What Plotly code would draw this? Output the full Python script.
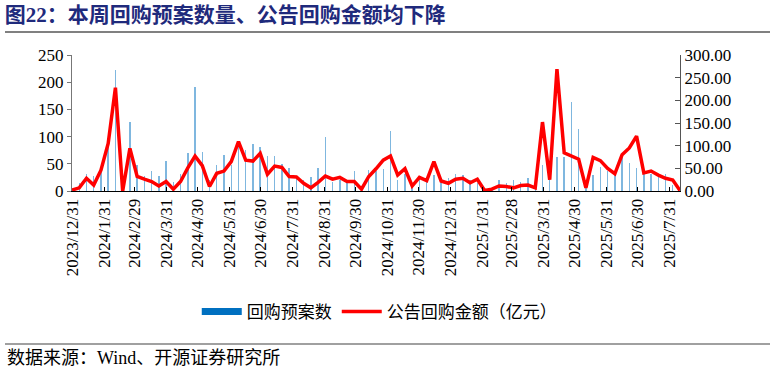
import pandas as pd
import plotly.graph_objects as go

# ---- data ----
weeks = pd.date_range("2023-12-31", periods=85, freq="7D")

plan_counts = [2, 14, 32, 28, 45, 85, 222, 0, 126, 47, 28, 37, 28, 56, 17, 31, 70,
               191, 72, 20, 47, 66, 48, 85, 75, 86, 81, 65, 64, 49, 43, 23, 20, 26,
               43, 99, 17, 20, 14, 37, 3, 39, 37, 40, 110, 20, 32, 14, 28, 20, 29,
               17, 23, 31, 29, 20, 14, 0, 2, 20, 15, 20, 17, 23, 5, 47, 23, 62,
               63, 164, 114, 8, 30, 45, 37, 34, 63, 51, 43, 31, 32, 26, 31, 11, 0]

amounts = [2, 7, 28, 13, 46, 105, 228, 0, 94, 32, 26, 21, 11, 21, 4, 21, 51,
           77, 56, 10, 39, 44, 65, 109, 68, 66, 83, 37, 55, 52, 32, 31, 17, 7,
           19, 33, 26, 30, 21, 21, 4, 32, 49, 68, 77, 35, 49, 11, 30, 23, 65,
           22, 17, 26, 28, 18, 26, 1, 4, 11, 10, 7, 12, 13, 7, 152, 25, 269,
           84, 77, 70, 7, 74, 67, 50, 38, 80, 95, 121, 40, 44, 35, 28, 24, 1]

tick_dates = ["2023-12-31", "2024-01-31", "2024-02-29", "2024-03-31", "2024-04-30",
              "2024-05-31", "2024-06-30", "2024-07-31", "2024-08-31", "2024-09-30",
              "2024-10-31", "2024-11-30", "2024-12-31", "2025-01-31", "2025-02-28",
              "2025-03-31", "2025-04-30", "2025-05-31", "2025-06-30", "2025-07-31"]
tick_labels = ["2023/12/31", "2024/1/31", "2024/2/29", "2024/3/31", "2024/4/30",
               "2024/5/31", "2024/6/30", "2024/7/31", "2024/8/31", "2024/9/30",
               "2024/10/31", "2024/11/30", "2024/12/31", "2025/1/31", "2025/2/28",
               "2025/3/31", "2025/4/30", "2025/5/31", "2025/6/30", "2025/7/31"]

name_bar = "回购预案数"
name_line = "公告回购金额（亿元）"
title_text = "图22：本周回购预案数量、公告回购金额均下降"
source_text = "数据来源：Wind、开源证券研究所"

# ---- style ----
FONT = "Liberation Serif, 'Times New Roman', 'Noto Sans CJK SC', serif"
CJK = "Liberation Serif, 'Noto Sans CJK SC', sans-serif"
BLUE = "#0070C0"
RED = "#FF0000"
DAY_MS = 86400000

fig = go.Figure()
fig.add_trace(go.Bar(
    x=weeks, y=plan_counts, name=name_bar, showlegend=False,
    marker=dict(color="rgba(0,112,192,0.5)", line=dict(width=0)),
    width=1.4 * DAY_MS, yaxis="y"))
fig.add_trace(go.Scatter(
    x=[None], y=[None], mode="lines", name=name_bar,
    line=dict(color=BLUE, width=7), yaxis="y"))
fig.add_trace(go.Scatter(
    x=weeks, y=amounts, mode="lines", name=name_line,
    line=dict(color=RED, width=3.5), yaxis="y2"))

# paper coords helpers: plot area x 72..680, y 55..191 px
def px_x(x):
    return (x - 72) / 608.0

def px_y(y):
    return (191 - y) / 136.0

fig.update_layout(
    width=774, height=373,
    margin=dict(l=72, r=94, t=55, b=182),
    paper_bgcolor="white", plot_bgcolor="white",
    font=dict(family=FONT, size=17, color="black"),
    bargap=0,
    title=dict(text="<b>" + title_text + "</b>", xref="container", yref="container",
               x=0.006, xanchor="left", y=1 - 15 / 373, yanchor="middle",
               font=dict(family=CJK, size=21, color="#1F2A7C")),
    xaxis=dict(type="date", range=["2023-12-31", "2025-08-10"],
               tickmode="array", tickvals=tick_dates, ticktext=tick_labels,
               tickangle=-90, ticks="inside", ticklen=4, tickcolor="black",
               showline=True, linecolor="black", linewidth=1, showgrid=False,
               zeroline=False, tickfont=dict(size=17)),
    yaxis=dict(range=[0, 250], dtick=50, tick0=0, ticks="outside", ticklen=4,
               tickcolor="#777", showline=True, linecolor="#777", linewidth=1,
               showgrid=False, zeroline=False, tickfont=dict(size=17)),
    yaxis2=dict(range=[0, 300], dtick=50, tick0=0, tickformat=".2f",
                overlaying="y", side="right", ticks="inside", ticklen=5,
                tickcolor="#555", showline=True, linecolor="#555", linewidth=1,
                showgrid=False, zeroline=False, tickfont=dict(size=17)),
    legend=dict(orientation="h", xref="container", yref="container",
                x=0.49, xanchor="center", y=1 - 312 / 373, yanchor="middle",
                font=dict(family=CJK, size=17), itemwidth=40,
                bgcolor="rgba(0,0,0,0)"),
    shapes=[
        dict(type="line", xref="paper", yref="paper",
             x0=px_x(5), x1=px_x(770), y0=px_y(32), y1=px_y(32),
             line=dict(color="#808080", width=2)),
        dict(type="line", xref="paper", yref="paper",
             x0=px_x(5), x1=px_x(770), y0=px_y(344), y1=px_y(344),
             line=dict(color="#808080", width=1.5)),
    ],
    annotations=[
        dict(text=source_text, xref="paper", yref="paper",
             x=px_x(5), y=px_y(358), xanchor="left", yanchor="middle",
             showarrow=False, font=dict(family=CJK, size=18, color="black")),
    ],
)

fig.write_html("out.html", config={"displayModeBar": False},
               post_script="document.body.style.margin='0';document.body.style.overflow='hidden';")
